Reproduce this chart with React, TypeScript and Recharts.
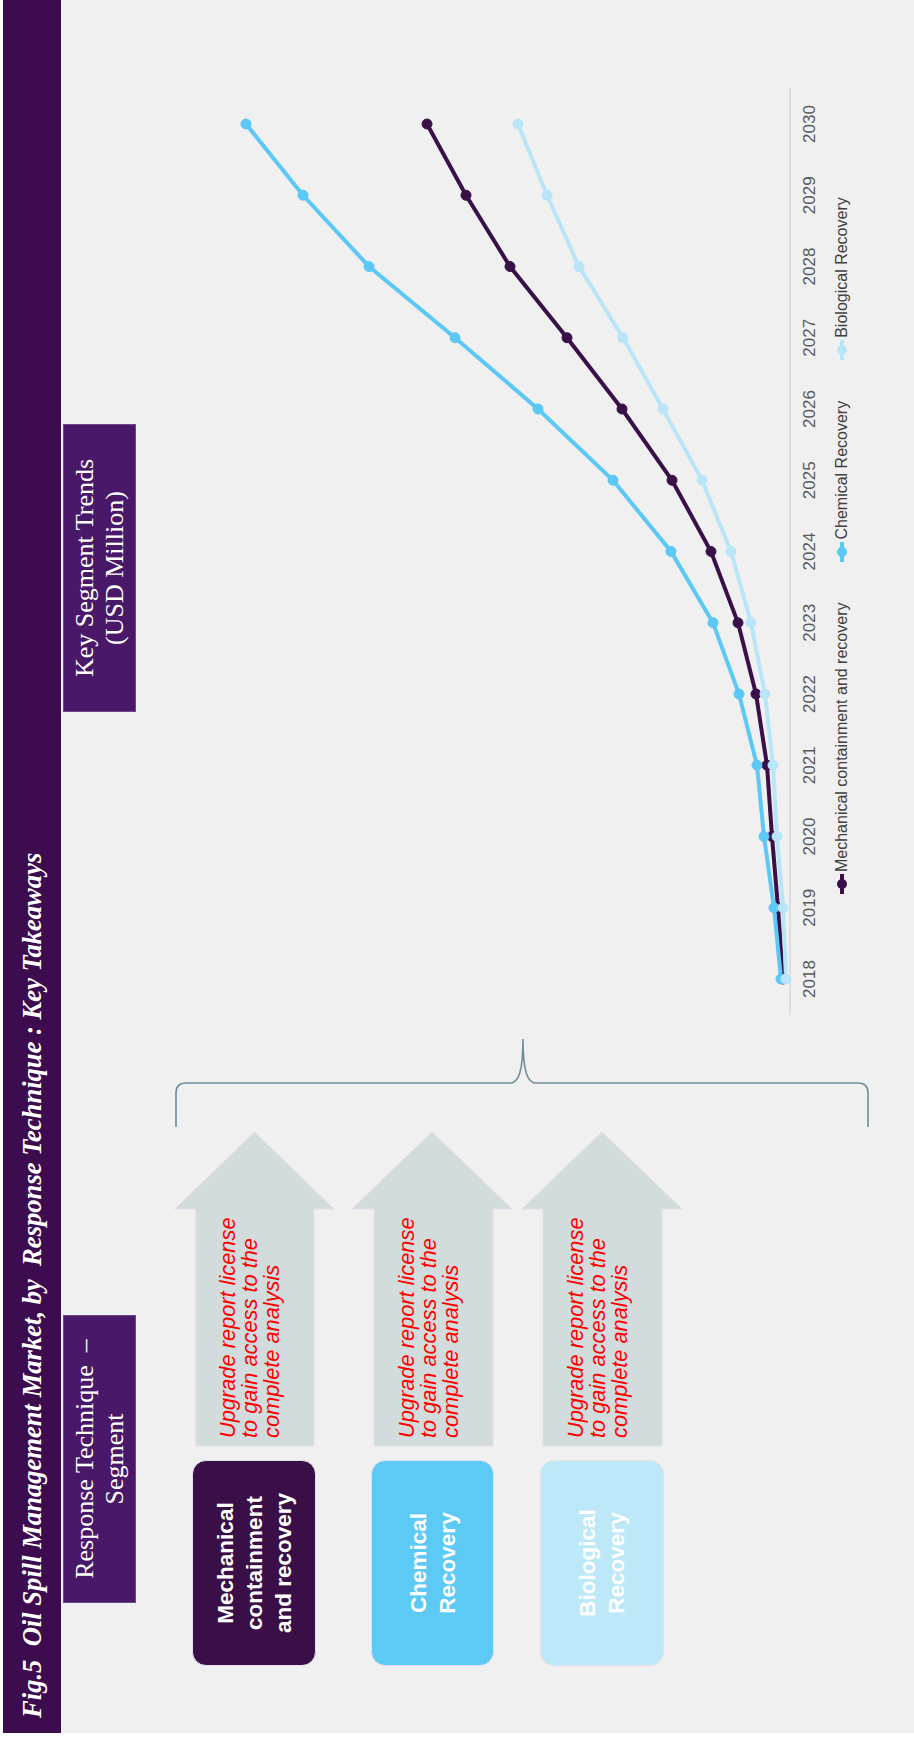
import { LineChart, Line, XAxis, YAxis } from 'recharts';

// values (USD Million, relative), 2018 → 2030
const years = ['2018', '2019', '2020', '2021', '2022', '2023', '2024', '2025', '2026', '2027', '2028', '2029', '2030'];
const mechanical = [7, 12, 18, 23, 34, 52, 79, 118, 168, 223, 280, 324, 363];
const chemical = [9, 16, 26, 33, 51, 77, 119, 177, 252, 335, 421, 487, 544];
const biological = [4, 7, 13, 17, 25, 39, 59, 88, 127, 167, 211, 243, 272];

const seriesNames = ['Mechanical containment and recovery', 'Chemical Recovery', 'Biological Recovery'];
const seriesKeys = ['mechanical', 'chemical', 'biological'];
const seriesColors = ['#3a1048', '#5bc8f5', '#b8e5f8'];

const segmentLabels = [['Mechanical', 'containment', 'and recovery'], ['Chemical', 'Recovery'], ['Biological', 'Recovery']];
const segmentColors = ['#3a0f47', '#5ccaf5', '#bde8f8'];
const upgradeText = ['Upgrade report license', 'to gain access to the', 'complete analysis'];

const SERIF = "'Liberation Serif', 'Times New Roman', serif";
const SANS = "'Liberation Sans', Arial, sans-serif";

const chartData = years.map((year, i) => ({
    year,
    mechanical: mechanical[i],
    chemical: chemical[i],
    biological: biological[i],
}));

// slide is drawn landscape (1743 x 914) and turned a quarter to fit the page
const SLIDE_W = 1743;
const SLIDE_H = 914;

// arrow bands across the slide (y ranges)
const arrowRows = [
    { head: [175, 334], shaft: [196, 314] },
    { head: [352, 512], shaft: [374, 493] },
    { head: [522, 682], shaft: [543, 662] },
];
const segmentRows = [[192, 316], [371, 494], [540, 664]];

const HeaderBox = ({ left, lines }: { left: number; lines: string[] }) => (
    <div style={{
        position: 'absolute', left, top: 63, width: 288, height: 73,
        background: '#4a1869', border: '1px solid #6b4a86', boxSizing: 'border-box',
        color: '#fff', fontFamily: SERIF, fontSize: 26, lineHeight: '30px',
        display: 'flex', flexDirection: 'column', justifyContent: 'center', alignItems: 'center',
        whiteSpace: 'pre',
    }}>
        {lines.map(l => <div key={l}>{l}</div>)}
    </div>
);

const Slide = () => (
    <div style={{ position: 'absolute', left: 0, top: 0, width: SLIDE_W, height: SLIDE_H, background: '#fff' }}>
        <div style={{ position: 'absolute', left: 10, top: 3, right: 0, bottom: 0, background: '#f0f0f0' }} />

        {/* title strip */}
        <div style={{ position: 'absolute', left: 10, top: 3, width: SLIDE_W - 10, height: 58, background: '#3c0c4e' }} />
        <div style={{
            position: 'absolute', left: 25, top: 3, height: 58, display: 'flex', alignItems: 'center',
            color: '#fff', fontFamily: SERIF, fontStyle: 'italic', fontWeight: 'bold', fontSize: 26.6, whiteSpace: 'pre',
        }}>
            {'Fig.5  Oil Spill Management Market, by  Response Technique : Key Takeaways'}
        </div>

        <HeaderBox left={140} lines={['Response Technique  –', 'Segment']} />
        <HeaderBox left={1031} lines={['Key Segment Trends', '(USD Million)']} />

        {/* arrows and brace */}
        <svg width={SLIDE_W} height={SLIDE_H} style={{ position: 'absolute', left: 0, top: 0 }}>
            {arrowRows.map((r, i) => {
                const mid = (r.head[0] + r.head[1]) / 2;
                const pts = [
                    [297, r.shaft[0]], [534, r.shaft[0]], [534, r.head[0]], [611, mid],
                    [534, r.head[1]], [534, r.shaft[1]], [297, r.shaft[1]],
                ].map(p => p.join(',')).join(' ');
                return <polygon key={i} points={pts} fill="#d3dcdd" stroke="#e2dcea" strokeWidth={1} />;
            })}
            <path
                d="M 616 176 L 650 176 Q 660 176 660 186 L 660 512 C 662 518, 670 523, 704 523 C 670 523, 662 528, 660 534 L 660 858 Q 660 868 650 868 L 616 868"
                fill="none" stroke="#6f8c9b" strokeWidth={1.6}
            />
        </svg>

        {arrowRows.map((r, i) => (
            <div key={i} style={{
                position: 'absolute', left: 305, top: (r.shaft[0] + r.shaft[1]) / 2 - 38, height: 66,
                color: '#ff0000', fontFamily: SANS, fontStyle: 'italic', fontSize: 21.8, lineHeight: '22px',
                display: 'flex', flexDirection: 'column', justifyContent: 'center', whiteSpace: 'pre',
            }}>
                {upgradeText.map(t => <div key={t}>{t}</div>)}
            </div>
        ))}

        {segmentRows.map((r, i) => (
            <div key={i} style={{
                position: 'absolute', left: 77, top: r[0], width: 206, height: r[1] - r[0],
                background: segmentColors[i], borderRadius: 14, border: '1px solid #e6e0ee', boxSizing: 'border-box',
                color: '#fff', fontFamily: SANS, fontWeight: 'bold', fontSize: 22.5, lineHeight: '29px',
                display: 'flex', flexDirection: 'column', justifyContent: 'center', alignItems: 'center',
            }}>
                {segmentLabels[i].map(t => <div key={t}>{t}</div>)}
            </div>
        ))}

        {/* the chart */}
        <div style={{ position: 'absolute', left: 700, top: 60 }}>
            <LineChart width={1000} height={850} data={chartData} margin={{ top: 30, right: 45, bottom: 90, left: 28 }}>
                <XAxis
                    dataKey="year"
                    height={30}
                    interval={0}
                    padding={{ left: 36, right: 36 }}
                    tickLine={false}
                    tickSize={6}
                    tickMargin={7}
                    axisLine={{ stroke: '#d9d9d9', strokeWidth: 1.5 }}
                    tick={{ fill: '#595959', fontSize: 17, fontFamily: SANS }}
                />
                <YAxis hide domain={[0, 700]} />
                {seriesKeys.map((k, i) => (
                    <Line
                        key={k}
                        type="linear"
                        dataKey={k}
                        name={seriesNames[i]}
                        stroke={seriesColors[i]}
                        strokeWidth={4}
                        dot={{ r: 5, fill: seriesColors[i], stroke: seriesColors[i], strokeWidth: 1 }}
                        isAnimationActive={false}
                    />
                ))}
            </LineChart>
        </div>

        {/* legend */}
        <div style={{
            position: 'absolute', left: 848, top: 830, height: 24, display: 'flex', alignItems: 'center', gap: 40,
            fontFamily: SANS, fontSize: 16, color: '#404040', whiteSpace: 'pre',
        }}>
            {seriesNames.map((n, i) => (
                <div key={n} style={{ display: 'flex', alignItems: 'center' }}>
                    <svg width={22} height={12}>
                        <line x1={1} y1={6} x2={21} y2={6} stroke={seriesColors[i]} strokeWidth={4} />
                        <circle cx={11} cy={6} r={5} fill={seriesColors[i]} />
                    </svg>
                    <span style={{ marginLeft: 1 }}>{n}</span>
                </div>
            ))}
        </div>
    </div>
);

export default function App() {
    return (
        <div style={{ position: 'absolute', left: 0, top: 0, width: SLIDE_H, height: SLIDE_W, overflow: 'hidden', background: '#fff' }}>
            <style>{'body { margin: 0; overflow: hidden; }'}</style>
            <div style={{
                position: 'absolute', left: 0, top: 0, width: SLIDE_W, height: SLIDE_H,
                transformOrigin: '0 0', transform: `translateY(${SLIDE_W}px) rotate(-90deg)`,
            }}>
                <Slide />
            </div>
        </div>
    );
}
